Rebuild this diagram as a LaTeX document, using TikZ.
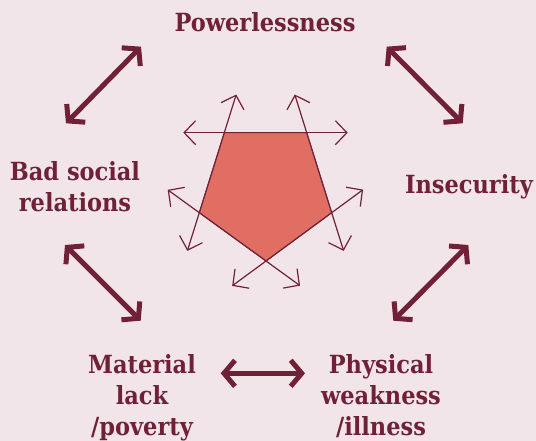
\documentclass[tikz,border=0pt]{standalone}
\usepackage{fontspec}
\newfontfamily\lblfont{DejaVu Serif Condensed}
\usetikzlibrary{arrows.meta,calc}
\definecolor{bgc}{RGB}{242,229,233}
\definecolor{maroon}{RGB}{112,33,56}
\definecolor{pent}{RGB}{225,110,98}
\begin{document}
\begin{tikzpicture}[x=1pt,y=-1pt,
  lbl/.style={text=maroon, inner sep=0pt, align=center,
    font=\lblfont\bfseries\fontsize{25}{31}\selectfont},
  bigarrow/.style={draw=maroon, line width=5pt,
    {Straight Barb[length=11pt,width=26pt]}-{Straight Barb[length=11pt,width=26pt]}},
  thinarrow/.style={draw=maroon, line width=1.2pt,
    {Straight Barb[length=11.5pt,width=24pt]}-{Straight Barb[length=11.5pt,width=24pt]}}]
\fill[bgc] (0,0) rectangle (536,441);
\useasboundingbox (0,0) rectangle (536,441);
% labels
\node[lbl, anchor=base] (pow) at (265,31.7) {Powerlessness};
\node[lbl, anchor=base] (ins) at (469,193.3) {Insecurity};
\node[lbl, anchor=north] (bad) at (75,161.8) {Bad social\\relations};
\node[lbl, anchor=north] (mat) at (142,354.3) {Material\\lack\\/poverty};
\node[lbl, anchor=north] (phy) at (381,354.3) {Physical\\weakness\\/illness};
% pentagon
\coordinate (A) at (224.3,132.7);
\coordinate (B) at (306.7,132.7);
\coordinate (C) at (331.7,212.7);
\coordinate (D) at (266,261);
\coordinate (E) at (199.3,212.7);
\filldraw[fill=pent, draw=maroon, line width=0.8pt] (A) -- (B) -- (C) -- (D) -- (E) -- cycle;
\draw[thinarrow] ($(A)!-41pt!(B)$) -- ($(B)!-41pt!(A)$);
\draw[thinarrow] ($(A)!-40pt!(E)$) -- ($(E)!-40pt!(A)$);
\draw[thinarrow] ($(B)!-40pt!(C)$) -- ($(C)!-40pt!(B)$);
\draw[thinarrow] ($(E)!-39pt!(D)$) -- ($(D)!-42pt!(E)$);
\draw[thinarrow] ($(C)!-39pt!(D)$) -- ($(D)!-42pt!(C)$);
% big arrows
\coordinate (tl1) at (66,123.3);   \coordinate (tl2) at (141,46.7);
\coordinate (tr1) at (386.7,46.7); \coordinate (tr2) at (462.7,123.3);
\coordinate (bl1) at (65,245);     \coordinate (bl2) at (140.7,320.7);
\coordinate (br1) at (393.3,320.7);\coordinate (br2) at (468.3,245);
\coordinate (h1) at (220.7,373.3); \coordinate (h2) at (305,373.3);
\draw[bigarrow] (tl1) -- (tl2);
\draw[bigarrow] (tr1) -- (tr2);
\draw[bigarrow] (bl1) -- (bl2);
\draw[bigarrow] (br1) -- (br2);
\draw[bigarrow] (h1) -- (h2);
\end{tikzpicture}
\end{document}
